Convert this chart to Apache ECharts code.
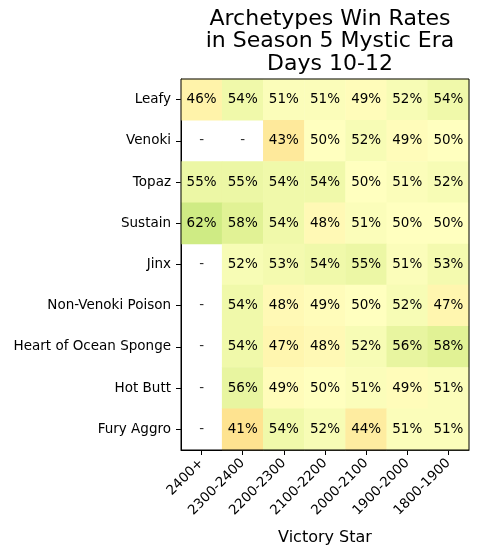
<!DOCTYPE html>
<html>
<head>
<meta charset="utf-8">
<script src="https://cdn.jsdelivr.net/npm/echarts@6/dist/echarts.min.js"></script>
<style>html,body{margin:0;padding:0;background:#fff;}#c{width:479px;height:556px;}</style>
</head>
<body>
<div id="c"></div>
<script>
const columns = ['2400+','2300-2400','2200-2300','2100-2200','2000-2100','1900-2000','1800-1900'];
const archetypes = ['Leafy','Venoki','Topaz','Sustain','Jinx','Non-Venoki Poison','Heart of Ocean Sponge','Hot Butt','Fury Aggro'];
// win rates in percent, null = no data
const leafy = [46,54,51,51,49,52,54];
const venoki = [null,null,43,50,52,49,50];
const topaz = [55,55,54,54,50,51,52];
const sustain = [62,58,54,48,51,50,50];
const jinx = [null,52,53,54,55,51,53];
const nonVenokiPoison = [null,54,48,49,50,52,47];
const heartOfOceanSponge = [null,54,47,48,52,56,58];
const hotButt = [null,56,49,50,51,49,51];
const furyAggro = [null,41,54,52,44,51,51];
const rows = [leafy,venoki,topaz,sustain,jinx,nonVenokiPoison,heartOfOceanSponge,hotButt,furyAggro];

const heatData = [], missingData = [];
rows.forEach((r, yi) => r.forEach((v, xi) => {
  if (v === null) missingData.push([xi, yi]);
  else heatData.push([xi, yi, v / 100]);
}));

const RdYlGn = ['#a50026','#d73027','#f46d43','#fdae61','#fee08b','#ffffbf','#d9ef8b','#a6d96a','#66bd63','#1a9850','#006837'];
const FONT = 'DejaVu Sans';
const G = {left: 181, right: 10, top: 79, bottom: 106};

const chart = echarts.init(document.getElementById('c'), null, {renderer: 'canvas'});
chart.setOption({
  animation: false,
  backgroundColor: '#fff',
  title: {
    text: 'Archetypes Win Rates\nin Season 5 Mystic Era\nDays 10-12',
    left: 325, top: 3, textAlign: 'center',
    textStyle: {fontFamily: FONT, fontSize: 22, fontWeight: 'normal', color: '#000', lineHeight: 22.5}
  },
  grid: {left: G.left, right: G.right, top: G.top, bottom: G.bottom},
  graphic: [{
    type: 'rect', z: 100, silent: true,
    shape: {x: G.left, y: G.top, width: 479 - G.left - G.right, height: 556 - G.top - G.bottom},
    style: {fill: 'none', stroke: '#000', lineWidth: 1}
  }],
  xAxis: {
    type: 'category', data: columns,
    name: 'Victory Star', nameLocation: 'middle', nameGap: 80,
    nameTextStyle: {fontFamily: FONT, fontSize: 16, color: '#000'},
    axisLine: {show: true, lineStyle: {color: '#000', width: 1}},
    axisTick: {show: true, alignWithLabel: true, length: 5, lineStyle: {color: '#000'}},
    axisLabel: {rotate: 45, margin: 11, fontFamily: FONT, fontSize: 13.5, color: '#000', interval: 0},
    splitLine: {show: false}
  },
  yAxis: {
    type: 'category', data: archetypes, inverse: true,
    axisLine: {show: true, lineStyle: {color: '#000', width: 1}},
    axisTick: {show: true, alignWithLabel: true, length: 5, lineStyle: {color: '#000'}},
    axisLabel: {margin: 10, fontFamily: FONT, fontSize: 13.5, color: '#000', interval: 0},
    splitLine: {show: false}
  },
  visualMap: {
    show: false, type: 'continuous', min: 0, max: 1, seriesIndex: 0, dimension: 2,
    inRange: {color: RdYlGn}
  },
  series: [
    {
      type: 'heatmap', data: heatData,
      label: {show: true, fontFamily: FONT, fontSize: 13.5, color: '#000',
        formatter: p => Math.round(p.value[2] * 100) + '%'},
      itemStyle: {borderWidth: 0},
      emphasis: {disabled: true}
    },
    {
      type: 'scatter', data: missingData, symbolSize: 0,
      label: {show: true, position: 'inside', fontFamily: FONT, fontSize: 13.5, color: '#000', formatter: '-'},
      silent: true
    }
  ]
});
</script>
</body>
</html>
